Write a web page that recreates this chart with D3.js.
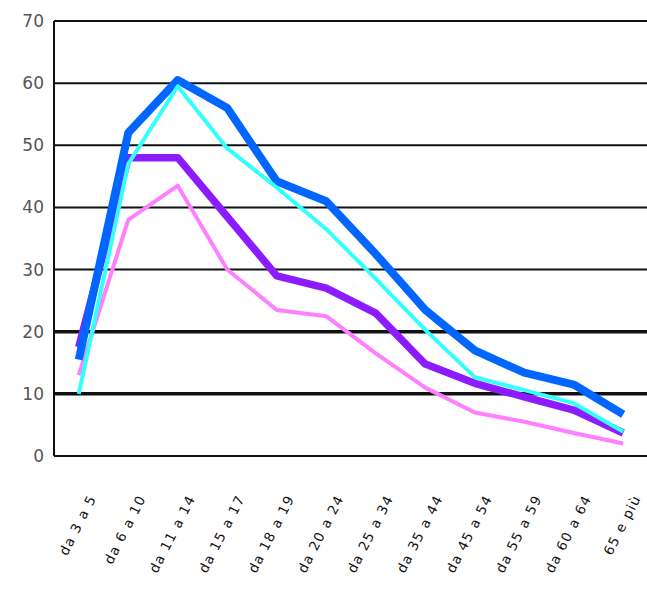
<!doctype html>
<html>
<head>
<meta charset="utf-8">
<style>
  body { margin: 0; background: #fff; }
  svg { display: block; }
  .ylab { font-family: "DejaVu Sans", sans-serif; font-size: 17px; fill: #555; }
  .xlab { font-family: "DejaVu Sans", sans-serif; font-size: 13.5px; letter-spacing: 1.3px; fill: #111; }
</style>
<script src="https://d3js.org/d3.v7.min.js"></script>
</head>
<body>
<script>
  // age groups
  var categories = ["da 3 a 5", "da 6 a 10", "da 11 a 14", "da 15 a 17", "da 18 a 19", "da 20 a 24",
                    "da 25 a 34", "da 35 a 44", "da 45 a 54", "da 55 a 59", "da 60 a 64", "65 e più"];

  var pinkVals   = [13, 38, 43.5, 30, 23.5, 22.5, 16.5, 11, 7, 5.5, 3.7, 2];
  var purpleVals = [17.5, 48, 48, 38.5, 29, 27, 23, 14.8, 11.7, 9.5, 7.4, 3.7];
  var blueVals   = [15.5, 52, 60.5, 56, 44.2, 41, 32.5, 23.5, 17, 13.4, 11.5, 6.7];
  var cyanVals   = [10, 47, 59.5, 49.5, 43.2, 36.5, 28.5, 20.3, 12.7, 10.6, 8.5, 3.9];

  var yTicks = [0, 10, 20, 30, 40, 50, 60, 70];

  var svg_width = 647, svg_height = 590;
  var pLeft = 54, pRight = 648, pTop = 21, pBottom = 456;

  var svg = d3.select("body").append("svg")
    .attr("width", svg_width)
    .attr("height", svg_height);

  var x = d3.scalePoint().domain(categories).range([pLeft, pRight]).padding(0.5);
  var y = d3.scaleLinear().domain([0, 70]).range([pBottom, pTop]);

  // grid lines
  svg.selectAll(".grid")
    .data(yTicks)
    .enter().append("line")
    .attr("x1", pLeft).attr("x2", pRight)
    .attr("y1", function(d) { return y(d); })
    .attr("y2", function(d) { return y(d); })
    .attr("stroke", "#111")
    .attr("stroke-width", function(d) { return (d == 10 || d == 20) ? 3.5 : 2; });

  // left axis line
  svg.append("line")
    .attr("x1", pLeft).attr("x2", pLeft)
    .attr("y1", y(70)).attr("y2", y(0))
    .attr("stroke", "#111").attr("stroke-width", 2);

  svg.selectAll(".ylab")
    .data(yTicks)
    .enter().append("text")
    .attr("class", "ylab")
    .attr("x", 44)
    .attr("y", function(d) { return y(d) + 6; })
    .attr("text-anchor", "end")
    .text(function(d) { return d; });

  svg.selectAll(".xlab")
    .data(categories)
    .enter().append("text")
    .attr("class", "xlab")
    .attr("text-anchor", "end")
    .attr("transform", function(d) { return "translate(" + (x(d) + 18) + ",498) rotate(-63)"; })
    .text(function(d) { return d; });

  var line = d3.line()
    .x(function(d, i) { return x(categories[i]); })
    .y(function(d) { return y(d); });

  var series = [
    { vals: pinkVals,   color: "#ff80ff", w: 4 },
    { vals: purpleVals, color: "#8c1cff", w: 7.5 },
    { vals: blueVals,   color: "#0066ff", w: 8 },
    { vals: cyanVals,   color: "#33ffff", w: 4 }
  ];

  series.forEach(function(s) {
    svg.append("path")
      .datum(s.vals)
      .attr("d", line)
      .attr("fill", "none")
      .attr("stroke", s.color)
      .attr("stroke-width", s.w)
      .attr("stroke-linejoin", "round");
  });
</script>
</body>
</html>
